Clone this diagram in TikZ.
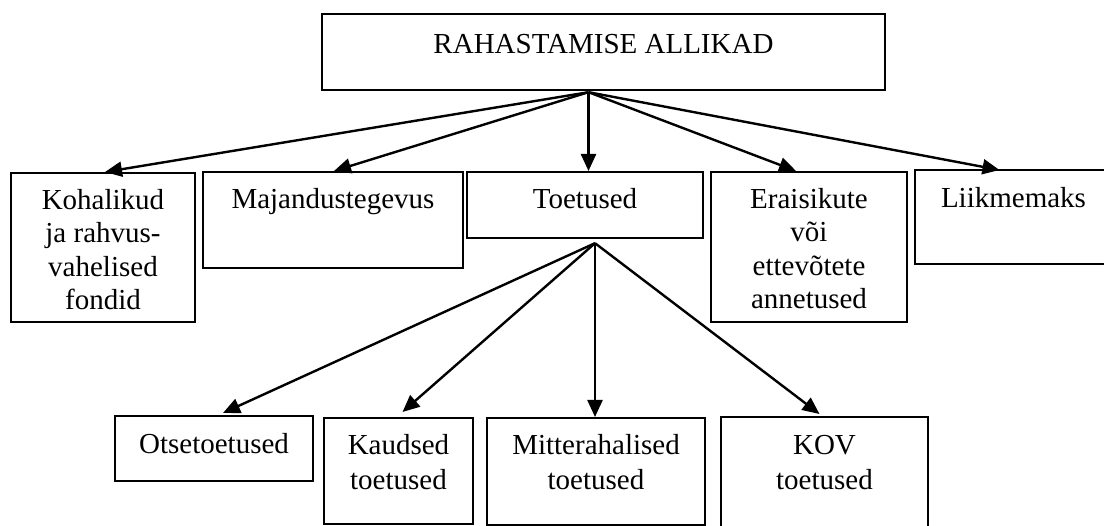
\documentclass[tikz,border=0pt]{standalone}
\usepackage{fontspec}
\setmainfont{Liberation Serif}
\usetikzlibrary{arrows.meta,calc}
% #1 name, #2 x1, #3 y1, #4 x2, #5 y2, #6 first baseline, #7 baselineskip, #8 text
\newcommand\mybox[8]{%
  \node[boxnode, minimum width=\dimexpr#4pt-#2pt\relax] (#1) at ({(#2+#4)/2},#3)
    {\parbox[c][\dimexpr#5pt-#3pt\relax][t]{\dimexpr#4pt-#2pt\relax}{\centering\fontsize{29}{#7}\selectfont\rule{0pt}{#6pt}#8\par}};}
\begin{document}
\begin{tikzpicture}[x=1pt,y=-1pt,
  boxnode/.style={draw, line width=2.2pt, inner sep=0pt, anchor=north},
  arr/.style={line width=2.4pt, -{Triangle[length=17pt,width=15pt]}}]
\useasboundingbox (0,0) rectangle (1104,526);
\clip (0,0) rectangle (1104,526);
\mybox{top}{322}{13}{885}{89}{39}{34}{RAHASTAMISE ALLIKAD}
\mybox{kohal}{11}{172}{195}{321}{36}{33.5}{Kohalikud\\ja rahvus-\\vahelised\\fondid}
\mybox{maj}{203}{171}{463}{267}{36}{33.5}{Majandustegevus}
\mybox{toet}{467}{171}{703}{237}{36}{33.5}{Toetused}
\mybox{erai}{711}{171}{907}{321}{36}{33.5}{Eraisikute\\või\\ettevõtete\\annetused}
\mybox{liik}{915}{169}{1112}{263}{37}{33.5}{Liikmemaks}
\mybox{otse}{115}{415}{313}{480}{37}{35}{Otsetoetused}
\mybox{kaud}{324}{417}{473}{523}{36}{35}{Kaudsed\\toetused}
\mybox{mitte}{487}{417}{705}{524}{36}{35}{Mitterahalised\\toetused}
\mybox{kov}{721}{416}{928}{540}{37}{35}{KOV\\toetused}
\coordinate (o1) at ($(top.south)+(-15,1)$);
\coordinate (o2) at ($(toet.south)+(10,4)$);
\draw[arr] (o1) -- ($(kohal.north)+(2,0)$);
\draw[arr] (o1) -- ($(maj.north)+(1,0)$);
\draw[arr] (o1) -- (o1 |- toet.north);
\draw[arr] (o1) -- ($(erai.north)+(-13,0)$);
\draw[arr] (o1) -- ($(liik.north)+(-14,1)$);
\draw[arr] (o2) -- ($(otse.north)+(9,-2)$);
\draw[arr] (o2) -- ($(kaud.north)+(4,-5)$);
\draw[arr] (o2) -- (o2 |- mitte.north);
\draw[arr] (o2) -- ($(kov.north)+(-5,-2)$);
\end{tikzpicture}
\end{document}
